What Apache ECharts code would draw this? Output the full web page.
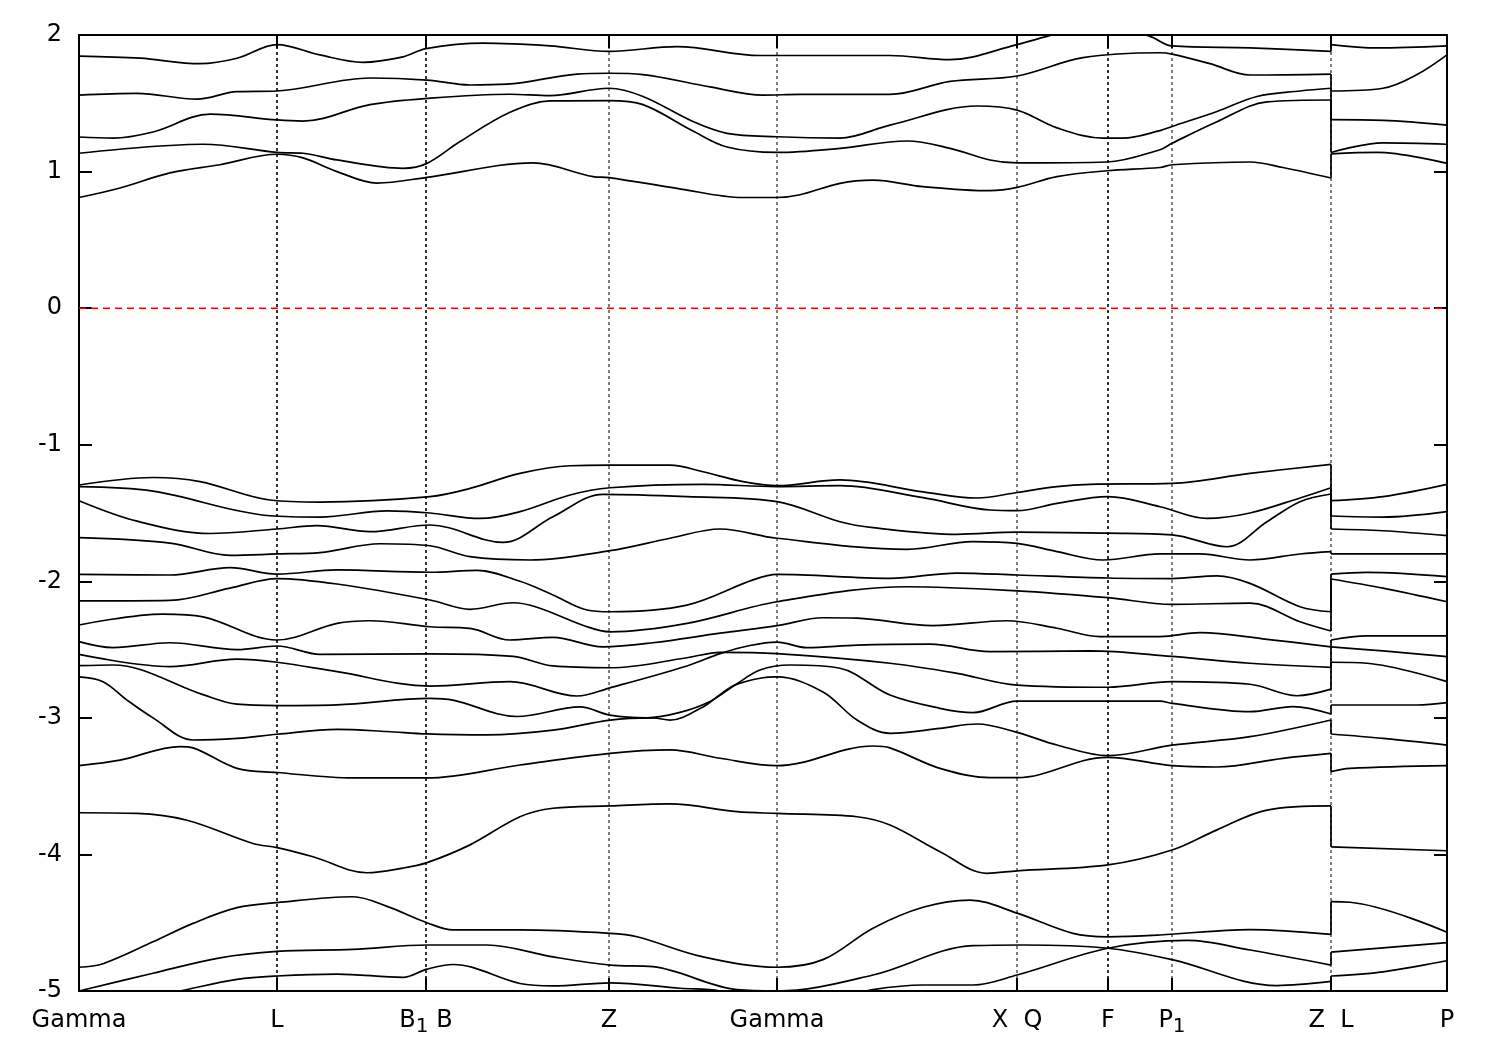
<!DOCTYPE html>
<html><head><meta charset="utf-8">
<script src="https://cdn.jsdelivr.net/npm/echarts@6/dist/echarts.min.js"></script>
<style>html,body{margin:0;padding:0;background:#fff}#c{width:1500px;height:1050px}</style>
</head><body><div id="c"></div>
<script>
// high-symmetry points (k-path distance) and their labels
const kPoints = [0, 1.98, 3.47, 5.30, 6.98, 9.38, 10.29, 10.93, 12.52, 13.68];
const kLabels = ['{m|Gamma}', '{m|L}', '{m|B}{s|1}{m| B}', '{m|Z}', '{m|Gamma}', '{m|X  Q}', '{m|F}', '{m|P}{s|1}', '{m|Z  L}', '{m|P}'];
const thickLines = [1.98, 3.47, 10.29];
const energyTicks = [-5, -4, -3, -2, -1, 0, 1, 2];
const fermiLevel = 0;

// conduction bands [k, E]
const bandC5 = [[0,1.846],[0.61,1.83],[1.21,1.79],[1.58,1.83],[1.98,1.93],[2.41,1.854],[2.84,1.80],[3.24,1.84],[3.47,1.90],[4.04,1.94],[4.71,1.92],[5.30,1.88],[5.98,1.915],[6.81,1.85],[6.98,1.85],[8.11,1.85],[8.71,1.82],[9.38,1.93],[9.68,1.99],[10.21,2.08],[10.71,1.99],[10.93,1.92],[11.71,1.905],[12.52,1.88],[12.52,1.93],[12.98,1.905],[13.68,1.92]];
const bandC4 = [[0,1.56],[0.58,1.573],[1.18,1.53],[1.58,1.585],[1.98,1.59],[2.91,1.685],[3.48,1.67],[3.91,1.634],[4.28,1.64],[4.98,1.714],[5.30,1.72],[5.64,1.71],[6.31,1.62],[6.84,1.56],[7.21,1.565],[8.11,1.565],[8.71,1.66],[9.38,1.70],[10.04,1.834],[10.81,1.87],[10.93,1.86],[11.31,1.79],[11.71,1.707],[12.52,1.714],[12.52,1.59],[13.04,1.61],[13.38,1.71],[13.68,1.854]];
const bandC3 = [[0,1.253],[0.34,1.245],[0.74,1.29],[1.31,1.42],[1.98,1.378],[2.24,1.37],[2.91,1.49],[3.48,1.536],[4.31,1.566],[4.71,1.556],[5.30,1.61],[5.64,1.55],[6.14,1.366],[6.48,1.28],[6.98,1.255],[7.61,1.245],[8.11,1.34],[8.98,1.48],[9.38,1.45],[9.78,1.32],[10.24,1.245],[10.44,1.245],[10.81,1.30],[10.93,1.33],[11.38,1.44],[11.78,1.55],[12.21,1.59],[12.52,1.61],[12.52,1.38],[13.04,1.375],[13.68,1.34]];
const bandC2 = [[0,1.134],[1.24,1.20],[1.98,1.14],[2.24,1.134],[2.58,1.085],[3.24,1.024],[3.48,1.06],[3.81,1.22],[4.31,1.434],[4.71,1.517],[5.30,1.52],[5.64,1.49],[6.14,1.297],[6.48,1.18],[6.98,1.14],[7.61,1.17],[8.28,1.224],[8.71,1.17],[9.11,1.085],[9.38,1.063],[10.28,1.07],[10.81,1.16],[10.93,1.207],[11.38,1.365],[11.88,1.51],[12.52,1.524],[12.52,1.14],[13.04,1.21],[13.68,1.20]];
const bandC1 = [[0,0.81],[0.41,0.88],[0.91,0.99],[1.41,1.05],[1.98,1.127],[2.24,1.10],[2.58,1.0],[2.98,0.916],[3.48,0.958],[4.54,1.063],[5.14,0.963],[5.30,0.956],[5.98,0.877],[6.64,0.81],[6.98,0.81],[7.21,0.83],[7.61,0.914],[7.94,0.937],[8.44,0.89],[9.11,0.86],[9.38,0.884],[9.78,0.963],[10.28,1.006],[10.81,1.03],[10.93,1.05],[11.71,1.07],[12.04,1.03],[12.52,0.953],[12.52,1.13],[12.98,1.14],[13.68,1.06]];

// valence bands [k, E]
const bandV1 = [[0,-1.295],[0.74,-1.24],[1.21,-1.27],[1.91,-1.405],[2.41,-1.42],[3.51,-1.38],[3.91,-1.32],[4.41,-1.21],[4.91,-1.154],[5.31,-1.15],[5.91,-1.15],[6.24,-1.198],[6.64,-1.27],[6.98,-1.30],[7.61,-1.258],[8.44,-1.345],[8.98,-1.39],[9.38,-1.35],[9.78,-1.307],[10.11,-1.29],[10.93,-1.283],[11.71,-1.21],[12.52,-1.144],[12.52,-1.41],[13.04,-1.38],[13.68,-1.29]];
const bandV2 = [[0,-1.307],[0.74,-1.34],[1.91,-1.52],[2.41,-1.53],[3.08,-1.485],[3.51,-1.50],[4.01,-1.54],[4.41,-1.49],[4.91,-1.368],[5.31,-1.315],[6.24,-1.29],[6.98,-1.307],[7.61,-1.30],[8.44,-1.388],[9.11,-1.478],[9.38,-1.483],[9.78,-1.43],[10.29,-1.38],[10.81,-1.454],[11.28,-1.54],[11.71,-1.50],[12.21,-1.39],[12.52,-1.315],[12.52,-1.522],[13.04,-1.53],[13.68,-1.49]];
const bandV3 = [[0,-1.41],[0.58,-1.56],[1.31,-1.65],[1.98,-1.617],[2.38,-1.593],[2.91,-1.637],[3.51,-1.588],[4.24,-1.715],[4.74,-1.527],[5.24,-1.363],[6.08,-1.38],[6.98,-1.417],[7.61,-1.564],[7.94,-1.607],[8.78,-1.656],[9.38,-1.64],[10.29,-1.648],[10.93,-1.66],[11.48,-1.747],[11.88,-1.564],[12.21,-1.417],[12.52,-1.361],[12.52,-1.617],[13.04,-1.63],[13.68,-1.666]];
const bandV4 = [[0,-1.68],[0.91,-1.72],[1.51,-1.81],[1.98,-1.80],[2.41,-1.79],[3.01,-1.725],[3.51,-1.74],[3.91,-1.82],[4.51,-1.844],[5.31,-1.776],[5.91,-1.685],[6.41,-1.617],[6.98,-1.685],[8.28,-1.766],[8.94,-1.71],[9.38,-1.722],[9.78,-1.783],[10.24,-1.844],[10.81,-1.80],[11.21,-1.80],[11.71,-1.844],[12.21,-1.80],[12.52,-1.783],[12.52,-1.80],[13.68,-1.80]];
const bandV5 = [[0,-1.95],[0.91,-1.954],[1.51,-1.90],[1.98,-1.947],[2.58,-1.917],[3.51,-1.934],[3.98,-1.92],[4.41,-2.0],[4.74,-2.10],[5.08,-2.21],[5.31,-2.223],[6.08,-2.174],[6.74,-1.99],[6.98,-1.95],[8.11,-1.978],[8.78,-1.94],[9.38,-1.954],[10.29,-1.976],[10.93,-1.98],[11.38,-1.96],[11.71,-2.015],[12.21,-2.186],[12.52,-2.223],[12.52,-1.947],[12.88,-1.935],[13.68,-1.966]];
const bandV6 = [[0,-2.144],[0.91,-2.14],[1.51,-2.05],[1.98,-1.98],[2.58,-2.02],[3.51,-2.137],[3.91,-2.205],[4.34,-2.157],[4.58,-2.19],[5.08,-2.333],[5.31,-2.37],[6.08,-2.308],[6.98,-2.15],[8.28,-2.04],[9.38,-2.07],[10.29,-2.12],[10.93,-2.169],[11.71,-2.16],[12.21,-2.296],[12.52,-2.364],[12.52,-1.983],[13.04,-2.05],[13.68,-2.15]];
const bandV7 = [[0,-2.32],[0.84,-2.24],[1.24,-2.26],[1.98,-2.43],[2.58,-2.308],[2.91,-2.289],[3.51,-2.333],[3.91,-2.345],[4.31,-2.43],[4.74,-2.41],[5.24,-2.48],[5.74,-2.45],[6.41,-2.38],[6.98,-2.325],[7.44,-2.267],[7.78,-2.27],[8.54,-2.325],[9.28,-2.289],[9.78,-2.344],[10.21,-2.405],[10.81,-2.405],[11.21,-2.376],[11.88,-2.425],[12.52,-2.48],[12.52,-2.43],[12.88,-2.40],[13.68,-2.40]];
const bandV8 = [[0,-2.442],[0.34,-2.486],[0.91,-2.45],[1.58,-2.50],[1.98,-2.474],[2.41,-2.535],[3.51,-2.532],[4.34,-2.55],[4.74,-2.62],[5.31,-2.633],[6.08,-2.56],[6.41,-2.52],[6.98,-2.53],[8.11,-2.60],[8.78,-2.674],[9.38,-2.76],[10.29,-2.776],[10.93,-2.735],[11.71,-2.754],[12.18,-2.838],[12.52,-2.79],[12.52,-2.593],[12.88,-2.60],[13.68,-2.735]];
const bandV9 = [[0,-2.535],[0.91,-2.625],[1.58,-2.57],[1.98,-2.593],[2.58,-2.662],[3.51,-2.767],[4.31,-2.735],[4.98,-2.84],[5.31,-2.78],[6.08,-2.62],[6.41,-2.53],[6.71,-2.47],[6.98,-2.445],[7.28,-2.486],[7.78,-2.467],[8.51,-2.46],[9.11,-2.515],[10.11,-2.51],[10.93,-2.55],[11.71,-2.60],[12.52,-2.63],[12.52,-2.48],[13.04,-2.51],[13.68,-2.552]];
const bandV10 = [[0,-2.618],[0.34,-2.613],[1.24,-2.83],[1.58,-2.90],[1.98,-2.91],[2.58,-2.905],[3.51,-2.857],[3.74,-2.87],[4.38,-2.99],[5.01,-2.92],[5.31,-2.98],[5.68,-3.0],[6.01,-2.96],[6.31,-2.88],[6.56,-2.76],[6.81,-2.65],[7.11,-2.613],[7.61,-2.637],[8.11,-2.833],[8.61,-2.93],[8.94,-2.962],[9.38,-2.877],[10.81,-2.877],[10.93,-2.894],[11.71,-2.955],[12.14,-2.918],[12.52,-2.972],[12.52,-2.906],[13.38,-2.906],[13.68,-2.889]];
const bandV11 = [[0,-2.70],[0.24,-2.735],[0.48,-2.87],[0.74,-3.0],[1.14,-3.162],[1.58,-3.15],[1.98,-3.12],[2.58,-3.084],[3.08,-3.10],[3.48,-3.118],[4.08,-3.125],[4.74,-3.09],[5.31,-3.016],[5.74,-3.0],[5.91,-3.016],[6.24,-2.92],[6.41,-2.83],[6.56,-2.76],[6.81,-2.71],[6.98,-2.70],[7.44,-2.81],[7.78,-3.016],[8.11,-3.113],[8.61,-3.077],[8.98,-3.045],[9.38,-3.106],[9.78,-3.199],[10.29,-3.277],[10.93,-3.20],[11.71,-3.138],[12.52,-3.016],[12.52,-3.118],[13.04,-3.15],[13.68,-3.199]];
const bandV12 = [[0,-3.35],[0.41,-3.31],[1.01,-3.21],[1.14,-3.22],[1.58,-3.37],[1.98,-3.40],[2.74,-3.44],[3.48,-3.44],[4.41,-3.345],[5.31,-3.26],[5.91,-3.235],[6.41,-3.296],[6.98,-3.35],[7.94,-3.206],[8.11,-3.22],[8.61,-3.37],[9.11,-3.438],[9.38,-3.438],[10.28,-3.289],[10.93,-3.35],[11.38,-3.36],[12.04,-3.296],[12.52,-3.26],[12.52,-3.394],[12.71,-3.37],[13.68,-3.35]];
const bandV13 = [[0,-3.695],[0.58,-3.70],[1.08,-3.75],[1.74,-3.92],[1.98,-3.95],[2.34,-4.017],[2.88,-4.134],[3.24,-4.10],[3.48,-4.06],[3.91,-3.93],[4.41,-3.724],[4.74,-3.662],[5.31,-3.645],[5.91,-3.63],[6.58,-3.687],[6.98,-3.70],[7.78,-3.724],[8.11,-3.785],[8.61,-3.98],[9.08,-4.138],[9.38,-4.12],[10.29,-4.077],[10.93,-3.968],[11.38,-3.82],[11.88,-3.675],[12.52,-3.645],[12.52,-3.944],[13.68,-3.973]];
const bandV14 = [[0,-4.826],[0.24,-4.80],[0.74,-4.64],[1.14,-4.505],[1.58,-4.39],[1.98,-4.353],[2.74,-4.31],[3.08,-4.38],[3.48,-4.50],[3.74,-4.553],[4.41,-4.553],[5.31,-4.578],[5.58,-4.603],[6.24,-4.75],[6.98,-4.826],[7.44,-4.77],[7.94,-4.54],[8.44,-4.387],[8.91,-4.334],[9.38,-4.43],[9.94,-4.578],[10.29,-4.603],[10.81,-4.59],[11.71,-4.55],[12.52,-4.586],[12.52,-4.346],[12.71,-4.35],[13.68,-4.57]];
const bandV15 = [[0,-5.0],[0.74,-4.87],[1.41,-4.757],[1.98,-4.71],[2.74,-4.695],[3.48,-4.663],[4.08,-4.663],[4.74,-4.75],[5.31,-4.81],[5.74,-4.822],[6.58,-4.99],[6.98,-5.0],[7.94,-4.883],[8.94,-4.668],[9.44,-4.663],[10.29,-4.687],[10.93,-4.77],[11.98,-4.96],[12.52,-4.93],[12.52,-4.89],[13.04,-4.86],[13.68,-4.778]];
const bandV16 = [[0,-5.15],[1.01,-5.0],[1.58,-4.915],[1.98,-4.89],[2.58,-4.876],[3.24,-4.90],[3.48,-4.84],[3.74,-4.806],[4.41,-4.945],[4.74,-4.963],[5.31,-4.94],[6.01,-4.98],[6.41,-5.0],[6.98,-5.1],[7.61,-5.05],[7.94,-4.99],[8.44,-4.956],[8.94,-4.956],[9.38,-4.883],[10.29,-4.687],[11.08,-4.63],[11.71,-4.70],[12.52,-4.81],[12.52,-4.716],[13.68,-4.646]];

const bands = [bandC1, bandC2, bandC3, bandC4, bandC5,
  bandV1, bandV2, bandV3, bandV4, bandV5, bandV6, bandV7, bandV8,
  bandV9, bandV10, bandV11, bandV12, bandV13, bandV14, bandV15, bandV16];

const kMin = kPoints[0], kMax = kPoints[kPoints.length - 1];
const eMin = energyTicks[0], eMax = energyTicks[energyTicks.length - 1];

const FONT = '"DejaVu Sans", "Liberation Sans", Arial, sans-serif';
const FS = 24;
const series = [];

// vertical lines at high-symmetry points
kPoints.slice(1, -1).forEach(k => {
  const thick = thickLines.some(t => Math.abs(t - k) < 1e-6);
  series.push({
    type: 'line', data: [[k, eMin], [k, eMax]], symbol: 'none', silent: true,
    lineStyle: { color: '#000', width: thick ? 1.6 : 1, type: [3, 3] },
    z: 1
  });
});

// Fermi level
series.push({
  type: 'line', data: [[kMin, fermiLevel], [kMax, fermiLevel]], symbol: 'none', silent: true,
  lineStyle: { color: '#ff0000', width: 1.5, type: [7, 5] }, z: 2
});

// bands (split at the Z|L discontinuity, joined by a vertical segment)
bands.forEach(b => {
  let j = -1;
  for (let i = 1; i < b.length; i++) {
    if (Math.abs(b[i][0] - b[i - 1][0]) < 1e-9) { j = i; break; }
  }
  const parts = j > 0 ? [b.slice(0, j), b.slice(j - 1, j + 1), b.slice(j)] : [b];
  parts.forEach((p, idx) => {
    series.push({
      type: 'line', data: p, symbol: 'none', silent: true,
      smooth: (j > 0 && idx === 1) ? false : 0.35,
      clip: true,
      lineStyle: { color: '#000', width: 1.7 }, z: 3
    });
  });
});

const labelFor = v => {
  const i = kPoints.findIndex(k => Math.abs(k - v) < 1e-6);
  return i >= 0 ? kLabels[i] : '';
};

const chart = echarts.init(document.getElementById('c'), null, { renderer: 'canvas' });
chart.setOption({
  animation: false,
  backgroundColor: '#fff',
  grid: { left: 79, right: 53, top: 35, bottom: 59, containLabel: false },
  xAxis: [{
    type: 'value', min: kMin, max: kMax, position: 'bottom',
    axisLine: { show: true, onZero: false, lineStyle: { color: '#000', width: 2 } },
    axisTick: { show: true, inside: true, length: 13, customValues: kPoints, lineStyle: { color: '#000', width: 2 } },
    axisLabel: {
      show: true, customValues: kPoints, formatter: labelFor, margin: 18,
      color: '#000', fontFamily: FONT, fontSize: FS,
      rich: {
        m: { fontFamily: FONT, fontSize: FS, color: '#000', padding: [0, 0, 4, 0] },
        s: { fontFamily: FONT, fontSize: 20, color: '#000', padding: [8, 0, 0, 0] }
      }
    },
    splitLine: { show: false }
  }, {
    type: 'value', min: kMin, max: kMax, position: 'top',
    axisLine: { show: true, onZero: false, lineStyle: { color: '#000', width: 2 } },
    axisTick: { show: true, inside: true, length: 13, customValues: kPoints, lineStyle: { color: '#000', width: 2 } },
    axisLabel: { show: false }, splitLine: { show: false }
  }],
  yAxis: [{
    type: 'value', min: eMin, max: eMax, interval: 1, position: 'left',
    axisLine: { show: true, onZero: false, lineStyle: { color: '#000', width: 2 } },
    axisTick: { show: true, inside: true, length: 13, lineStyle: { color: '#000', width: 2 } },
    axisLabel: { show: true, margin: 17, color: '#000', fontFamily: FONT, fontSize: FS },
    splitLine: { show: false }
  }, {
    type: 'value', min: eMin, max: eMax, interval: 1, position: 'right',
    axisLine: { show: true, onZero: false, lineStyle: { color: '#000', width: 2 } },
    axisTick: { show: true, inside: true, length: 13, lineStyle: { color: '#000', width: 2 } },
    axisLabel: { show: false }, splitLine: { show: false }
  }],
  series: series
});
</script>
</body></html>
